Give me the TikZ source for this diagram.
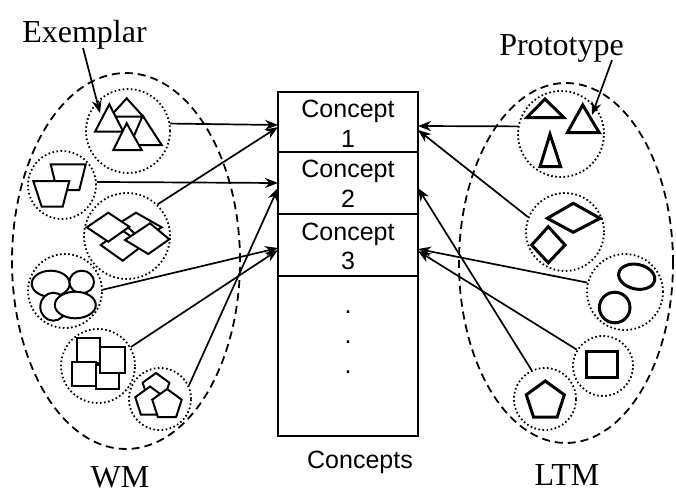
\documentclass[tikz,border=0pt]{standalone}
\usepackage{fontspec}
\setmainfont{Liberation Serif}
\newfontfamily\arialf{Liberation Sans}
\usetikzlibrary{arrows.meta,shapes.geometric}
\begin{document}
\begin{tikzpicture}[x=1pt,y=-1pt,
  grp/.style={draw, ellipse, line width=1.8pt, dash pattern=on 8pt off 5pt, inner sep=0pt},
  dotc/.style={draw, circle, line width=1.8pt, dash pattern=on 1.6pt off 2.5pt, inner sep=0pt, minimum size=#1},
  shp/.style={draw, fill=white, line width=2pt, line join=miter},
  shpb/.style={draw, fill=white, line width=3pt, line join=miter},
  pent/.style={regular polygon, regular polygon sides=5, inner sep=0pt, outer sep=0pt},
  conn/.style={line width=1.7pt, -{Stealth[length=13pt,width=10pt]}},
  cbox/.style={draw, line width=1.6pt, minimum width=140pt, inner sep=0pt},
  ttext/.style={font=\fontsize{32}{38}\selectfont, inner sep=0pt, anchor=base},
  stext/.style={font=\arialf\fontsize{25}{30}\selectfont, inner sep=0pt, anchor=base}
]
\useasboundingbox (0,0) rectangle (676,499);

% group ellipses
\node[grp, minimum width=228pt, minimum height=376pt] (wm) at (126,261) {};
\node[grp, minimum width=214pt, minimum height=360pt] (ltm) at (566,263) {};

% concept boxes
\node[cbox, minimum height=60pt] (c1) at (348,122) {};
\node[cbox, minimum height=62pt] (c2) at (348,183) {};
\node[cbox, minimum height=62pt] (c3) at (348,245) {};
\node[cbox, minimum height=160pt] (c4) at (348,356) {};
\node[stext] (c1a) at (348,117) {Concept};
\node[stext] (c1b) at (348,147) {1};
\node[stext] (c2a) at (348,177) {Concept};
\node[stext] (c2b) at (348,207) {2};
\node[stext] (c3a) at (348,240) {Concept};
\node[stext] (c3b) at (348,269) {3};
\node[stext] (d1) at (348,313) {.};
\node[stext] (d2) at (348,343) {.};
\node[stext] (d3) at (348,373) {.};
\node[stext] (cs) at (360,468) {Concepts};

% labels
\node[ttext] (ex) at (84.5,42) {Exemplar};
\node[ttext] (pr) at (561.5,55) {Prototype};
\node[ttext] (wmt) at (120,487) {WM};
\node[ttext] (ltmt) at (567,485) {LTM};

% dotted circles WM
\node[dotc=84pt] (wtri) at (128,131) {};
\node[dotc=68pt] (wtrap) at (62,185) {};
\node[dotc=86pt] (wdia) at (127,236) {};
\node[dotc=74pt] (well) at (65,291) {};
\node[dotc=74pt] (wsq) at (98,366) {};
\node[dotc=62pt] (wpent) at (160,399) {};
% dotted circles LTM
\node[dotc=86pt] (ltri) at (561,134) {};
\node[dotc=78pt] (ldia) at (565,232) {};
\node[dotc=76pt] (lell) at (625,292) {};
\node[dotc=60pt] (lsq) at (603,366) {};
\node[dotc=62pt] (lpent) at (545,399) {};

% WM shapes
\draw[shp] (126.7,98.3) -- (143.3,116.7) -- (110,116.7) -- cycle;
\draw[shp] (142.7,115.7) -- (161.7,145) -- (130,145) -- cycle;
\draw[shp] (109.3,104.3) -- (123.3,131.7) -- (95,131.7) -- cycle;
\draw[shp] (126.7,123.3) -- (141.7,150) -- (113.3,150) -- cycle;

\draw[shp] (50.7,164.3) -- (85.7,164.3) -- (79.3,190) -- (57,190) -- cycle;
\draw[shp] (33.3,181) -- (69.3,181) -- (62.7,206.7) -- (41.7,206.7) -- cycle;

\draw[shp] (121.7,221.7) -- (136,212.7) -- (161.7,227.3) -- (141.7,240) -- cycle;
\draw[shp] (100.7,245) -- (121.7,230) -- (143.3,245) -- (122.7,260.7) -- cycle;
\draw[shp] (86.7,227.3) -- (108.3,212.7) -- (129.3,226.7) -- (108.3,241.7) -- cycle;
\draw[shp] (125,240) -- (150,223.3) -- (169.3,239.3) -- (148.3,254) -- cycle;

\draw[shp] (50.7,283.7) ellipse [x radius=19pt, y radius=13pt];
\draw[shp] (81.7,282) ellipse [x radius=12.3pt, y radius=11.3pt];
\draw[shp] (53.3,306.7) ellipse [x radius=13pt, y radius=14pt];
\draw[shp] (75.3,305) ellipse [x radius=20.5pt, y radius=13.3pt];

\draw[shp] (76.7,338.3) rectangle (100,363.3);
\draw[shp] (95.7,365) rectangle (119.3,389.3);
\draw[shp] (100,347.3) rectangle (125,372.7);
\draw[shp] (71.7,361.7) rectangle (95.7,386);

\node[pent, shp, minimum size=28pt] (p1) at (156,387) {};
\node[pent, shp, minimum size=31pt] (p2) at (150,402) {};
\node[pent, shp, minimum size=31pt] (p3) at (167,404.5) {};

% LTM shapes
\draw[shpb] (545,99) -- (564,117.7) -- (526.7,117.7) -- cycle;
\draw[shpb] (582.7,105) -- (599.3,132.7) -- (567.3,132.7) -- cycle;
\draw[shpb] (550,134.3) -- (560.7,166.7) -- (540,166.7) -- cycle;
\draw[shpb] (547.3,218.3) -- (573.3,203.3) -- (600,218.3) -- (573.3,232.3) -- cycle;
\draw[shpb] (531.7,245) -- (548.3,226.7) -- (565,245) -- (548.3,262.7) -- cycle;
\draw[shpb, rotate around={-12:(636.7,276.7)}] (636.7,276.7) ellipse [x radius=18.3pt, y radius=12.3pt];
\draw[shpb] (614.7,307.5) circle [radius=15.3pt];
\draw[shpb] (586,351.7) rectangle (617.3,377.3);
\node[pent, shpb, minimum size=40pt] (lp) at (545.3,401) {};

% endpoints on the box
\coordinate (L1a) at (278,125);
\coordinate (L1b) at (278,127);
\coordinate (L2a) at (278,183);
\coordinate (L2b) at (278,188);
\coordinate (L3a) at (278,248);
\coordinate (L3b) at (278,250);
\coordinate (R1a) at (418,126);
\coordinate (R1b) at (418,130);
\coordinate (R2) at (418,188);
\coordinate (R3a) at (418,249);
\coordinate (R3b) at (418,251);

% connectors WM
\draw[conn] (wtri.10) -- (L1a);
\draw[conn] (wtrap.5) -- (L2a);
\draw[conn] (wdia.46) -- (L1b);
\draw[conn] (well.2) -- (L3a);
\draw[conn] (wsq.30) -- (L3b);
\draw[conn] (wpent.25) -- (L2b);
% connectors LTM
\draw[conn] (ltri.170) -- (R1a);
\draw[conn] (ldia.158) -- (R1b);
\draw[conn] (lell.166) -- (R3a);
\draw[conn] (lsq.148) -- (R3b);
\draw[conn] (lpent.115) -- (R2);

% label arrows
\coordinate (exS) at (83,48);
\coordinate (exT) at (100,113);
\coordinate (prS) at (612,60);
\coordinate (prT) at (592,115);
\draw[conn] (exS) -- (exT);
\draw[conn] (prS) -- (prT);
\end{tikzpicture}
\end{document}
